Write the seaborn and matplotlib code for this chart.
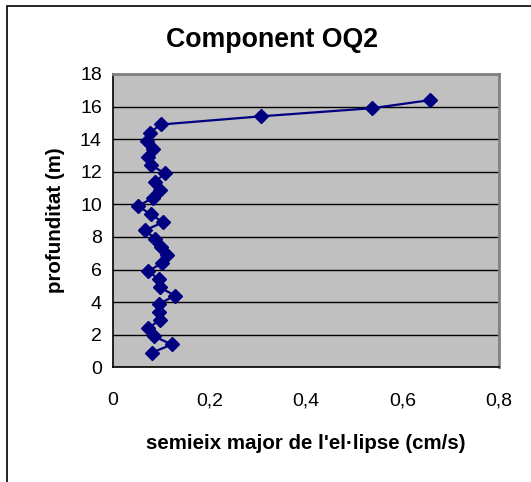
import matplotlib
matplotlib.use("Agg")
import matplotlib.pyplot as plt
import seaborn as sns
import pandas as pd
from matplotlib.patches import Rectangle

# Data
semieix = [0.081, 0.122, 0.085, 0.073, 0.097, 0.095, 0.096, 0.129, 0.097, 0.095,
           0.073, 0.102, 0.112, 0.099, 0.088, 0.066, 0.104, 0.078, 0.052, 0.084,
           0.097, 0.088, 0.108, 0.079, 0.072, 0.084, 0.071, 0.076, 0.100, 0.306,
           0.537, 0.658]
profunditat = [0.9, 1.4, 1.9, 2.4, 2.9, 3.4, 3.9, 4.4, 4.9, 5.4,
               5.9, 6.4, 6.9, 7.4, 7.9, 8.4, 8.9, 9.4, 9.9, 10.4,
               10.9, 11.4, 11.9, 12.4, 12.9, 13.4, 13.9, 14.4, 14.9, 15.4,
               15.9, 16.4]
x_ticks = [0, 0.2, 0.4, 0.6, 0.8]
x_tick_labels = ["0", "0,2", "0,4", "0,6", "0,8"]
y_ticks = [0, 2, 4, 6, 8, 10, 12, 14, 16, 18]

df = pd.DataFrame({"x": semieix, "y": profunditat})

sns.set_theme(style="white")
plt.rcParams["font.family"] = ["Liberation Sans", "DejaVu Sans"]
plt.rcParams["text.color"] = "black"
plt.rcParams["axes.labelcolor"] = "black"

fig = plt.figure(figsize=(5.31, 4.82), dpi=100)
fig.patch.set_facecolor("white")
ax = fig.add_axes([0.2126, 0.238, 0.7271, 0.6085])
ax.set_facecolor("#C0C0C0")

sns.lineplot(data=df, x="x", y="y", sort=False, ax=ax, color="#000080",
             linewidth=1.6, marker="D", markersize=7, markeredgecolor="#000080",
             markerfacecolor="#000080", markeredgewidth=1, estimator=None)

ax.set_xlim(0, 0.8)
ax.set_ylim(0, 18)
ax.set_xticks(x_ticks)
ax.set_xticklabels(x_tick_labels)
ax.set_yticks(y_ticks)
ax.yaxis.grid(True, color="black", linewidth=1)
ax.xaxis.grid(False)
ax.set_axisbelow(True)

for side in ["left", "bottom"]:
    ax.spines[side].set_color("black")
    ax.spines[side].set_linewidth(1.2)
for side in ["top", "right"]:
    ax.spines[side].set_color("#808080")
    ax.spines[side].set_linewidth(2)
    ax.spines[side].set_visible(True)

ax.tick_params(axis="both", which="major", direction="out", length=5, width=1,
               color="black", labelsize=14, labelcolor="black")
ax.tick_params(axis="x", pad=13)
ax.tick_params(axis="y", pad=3)

ax.set_xlabel("semieix major de l'el·lipse (cm/s)", fontsize=14.8,
              fontweight="bold", labelpad=18, color="black")
ax.set_ylabel("profunditat (m)", fontsize=14.8, fontweight="bold", labelpad=11,
              color="black")

fig.text(0.512, 0.917, "Component OQ2", ha="center", va="center",
         fontsize=19.3, fontweight="bold", color="black")

# outer chart border (only left and top visible in the reference)
fig.add_artist(Rectangle((6.5 / 531, -0.1), 1.2, 1.1 - 5.5 / 482,
                         transform=fig.transFigure, fill=False,
                         edgecolor="black", linewidth=1.2))

fig.savefig("out.png", dpi=100)
